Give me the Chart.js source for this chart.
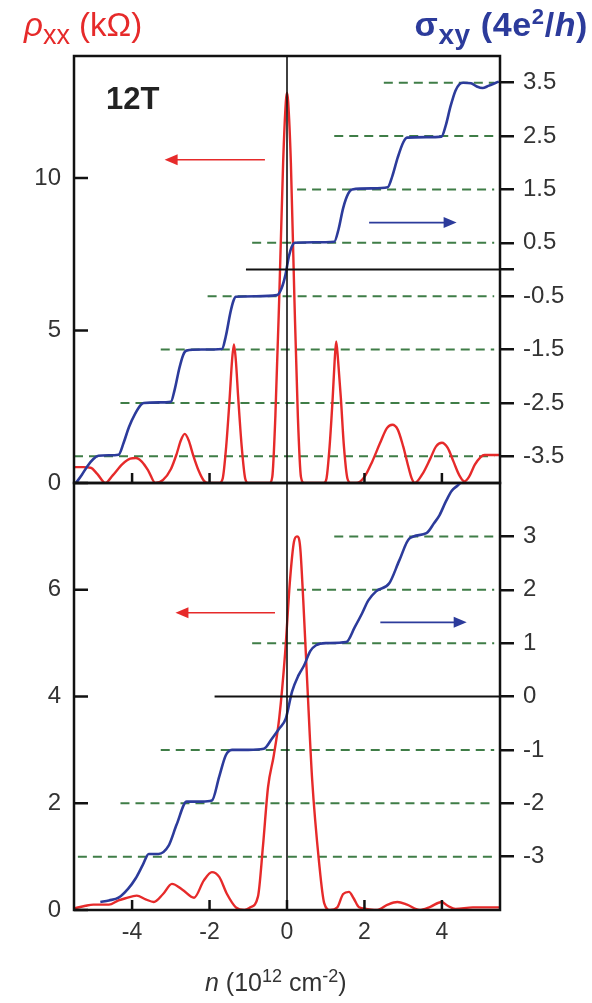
<!DOCTYPE html>
<html><head><meta charset="utf-8">
<script src="https://cdn.jsdelivr.net/npm/chart.js@4"></script>
<style>
html,body{margin:0;padding:0;background:#fff}
body{width:592px;height:1003px;overflow:hidden;position:relative;font-family:"Liberation Sans",Arial,sans-serif}
canvas{position:absolute;left:0}
#c1{top:0}
#c2{top:466px}
.t{position:absolute;white-space:nowrap;line-height:1}
sub,sup{line-height:0}
</style></head>
<body>
<canvas id="c1" width="592" height="500"></canvas>
<canvas id="c2" width="592" height="537"></canvas>
<div class="t" style="left:24px;top:8px;color:#e62a2a;font-size:33px"><i>&rho;</i><sub style="font-size:27px">xx</sub> (k&Omega;)</div>
<div class="t" style="right:4px;top:7px;color:#2c3b9b;font-size:34px;font-weight:bold;letter-spacing:0.6px">&sigma;<sub style="font-size:28px">xy</sub> (4e<sup style="font-size:22px">2</sup>/<i>h</i>)</div>
<div class="t" style="left:106px;top:83px;color:#222;font-size:31px;font-weight:bold">12T</div>
<div class="t" style="left:205px;top:970px;color:#333;font-size:25px"><i>n</i> (10<sup style="font-size:18px">12</sup> cm<sup style="font-size:18px">-2</sup>)</div>
<script>
const RED='#e62a2a', BLUE='#2c3b9b', GREEN='#3f7d47', INK='#111', TXT='#333';
const FONT='"Liberation Sans", Arial, sans-serif';

// shared x axis
const nMin=-5.5, nMax=5.5;
const xTicks=[-4,-2,0,2,4];

// ---- top panel (12T) ----
const topRhoN=[-5.5,-5.25,-5.07,-4.9,-4.69,-4.5,-4.25,-4.05,-3.9,-3.75,-3.58,-3.4,-3.2,-3.0,-2.85,-2.74,-2.64,-2.54,-2.42,-2.28,-2.15,-2.05,-1.75,-1.66,-1.57,-1.48,-1.42,-1.37,-1.32,-1.26,-1.17,-1.08,-1.0,-0.45,-0.38,-0.3,-0.2,-0.1,-0.03,0,0.03,0.1,0.19,0.28,0.36,0.44,0.95,1.02,1.1,1.18,1.23,1.27,1.32,1.39,1.47,1.56,1.65,1.79,2.0,2.2,2.4,2.58,2.72,2.86,3.0,3.12,3.22,3.3,3.5,3.7,3.85,4.0,4.15,4.3,4.45,4.58,4.7,4.85,5.0,5.1,5.5];
const topRho=[0.52,0.52,0.5,0.3,0,0.25,0.62,0.8,0.82,0.7,0.4,0,0.1,0.45,0.95,1.4,1.61,1.4,0.9,0.4,0.08,0,0,0.15,1.2,2.8,4.0,4.54,4.0,2.8,1.2,0.15,0,0,0.2,2.2,6.1,10.5,12.5,12.8,12.5,10.5,6.1,2.2,0.2,0,0,0.15,1.2,2.8,4.0,4.64,4.0,2.8,1.2,0.15,0,0,0.2,0.7,1.3,1.8,1.91,1.75,1.2,0.6,0.15,0,0.3,0.8,1.2,1.32,1.15,0.7,0.25,0.05,0.2,0.6,0.85,0.92,0.92];
const topSigN=[-5.45,-5.3,-5.15,-5.0,-4.87,-4.6,-4.35,-4.22,-4.08,-3.92,-3.78,-3.7,-3.3,-3.0,-2.9,-2.78,-2.68,-2.6,-2.2,-1.68,-1.58,-1.46,-1.38,-1.32,-0.8,-0.26,-0.14,-0.04,0.05,0.12,0.2,0.7,1.22,1.33,1.45,1.58,1.68,2.2,2.6,2.72,2.86,3.0,3.1,3.6,3.99,4.1,4.22,4.35,4.45,4.55,4.75,4.9,5.05,5.2,5.47];
const topSig=[-4.0,-3.85,-3.68,-3.55,-3.49,-3.48,-3.47,-3.25,-2.95,-2.7,-2.54,-2.5,-2.49,-2.48,-2.25,-1.85,-1.6,-1.52,-1.5,-1.49,-1.25,-0.8,-0.58,-0.51,-0.5,-0.48,-0.35,-0.1,0.25,0.42,0.5,0.51,0.52,0.75,1.15,1.42,1.5,1.52,1.54,1.75,2.1,2.38,2.47,2.48,2.49,2.7,3.05,3.35,3.47,3.5,3.49,3.43,3.4,3.44,3.52];
const topLeftTicks=[0,5,10];
const topRightTicks=[-3.5,-2.5,-1.5,-0.5,0,0.5,1.5,2.5,3.5];
const topPlateaus=[-3.5,-2.5,-1.5,-0.5,0.5,1.5,2.5,3.5];
const topPlateauFrom=[-5.5,-4.3,-3.26,-2.05,-0.9,0.26,1.22,2.5];
const topZeroFrom=-1.06;
const topArrowRho=[-0.57,-3.16,10.6];   // from n, to n, rho level
const topArrowSig=[2.12,4.38,0.88];     // from n, to n, sigma level

// ---- bottom panel ----
const botRhoN=[-5.5,-5.2,-5.0,-4.6,-4.35,-4.17,-3.88,-3.65,-3.44,-3.2,-2.97,-2.7,-2.4,-2.15,-1.94,-1.75,-1.55,-1.32,-1.1,-0.95,-0.75,-0.62,-0.49,-0.34,-0.2,-0.05,0.08,0.18,0.26,0.34,0.42,0.52,0.65,0.83,0.96,1.12,1.3,1.45,1.6,1.72,1.86,2.05,2.33,2.6,2.85,3.1,3.42,3.7,3.99,4.15,4.35,4.8,5.5];
const botRho=[0.03,0.08,0.1,0.1,0.18,0.22,0.27,0.2,0.15,0.3,0.49,0.38,0.23,0.55,0.71,0.62,0.3,0.05,0,0.05,0.25,1.2,2.3,2.9,3.6,4.8,6.2,6.9,7.0,6.8,5.8,4.3,2.44,0.88,0.13,0,0.05,0.3,0.34,0.22,0.05,0.02,0,0.1,0.15,0.1,0,0.06,0.15,0.08,0.02,0.05,0.05];
const botSigN=[-4.82,-4.6,-4.35,-4.1,-3.91,-3.72,-3.57,-3.32,-3.06,-2.85,-2.59,-2.2,-1.94,-1.75,-1.58,-1.42,-1.0,-0.6,-0.39,-0.2,-0.03,0.13,0.3,0.44,0.6,0.75,1.0,1.53,1.75,1.94,2.1,2.3,2.64,2.9,3.16,3.6,3.8,3.94,4.1,4.25,4.4,4.56];
const botSig=[-3.85,-3.82,-3.77,-3.6,-3.41,-3.15,-2.95,-2.95,-2.8,-2.4,-1.97,-1.97,-1.95,-1.5,-1.1,-1.0,-1.0,-0.98,-0.79,-0.6,-0.41,0.09,0.4,0.58,0.85,0.96,1.0,1.02,1.3,1.56,1.8,1.97,2.12,2.55,2.96,3.06,3.25,3.4,3.65,3.85,3.95,4.05];
const botLeftTicks=[0,2,4,6];
const botRightTicks=[-3,-2,-1,0,1,2,3];
const botPlateaus=[-3,-2,-1,1,2,3,4];
const botPlateauFrom=[-5.4,-4.3,-3.26,-0.9,0.26,1.22,4.5];
const botZeroFrom=-1.87;
const botArrowRho=[-0.31,-2.88,5.57];
const botArrowSig=[2.41,4.64,1.39];
const plateauTo=5.35;

function xy(ns,vs){return ns.map((n,i)=>({x:n,y:vs[i]}));}
function curve(ns,vs,color,axis,w,order){
  return {data:xy(ns,vs),yAxisID:axis,borderColor:color,borderWidth:w,pointRadius:0,
    cubicInterpolationMode:'monotone',fill:false,order:order};
}
function seg(x0,x1,y0,y1,axis,color,w,dash,order){
  return {data:[{x:x0,y:y0},{x:x1,y:y1}],yAxisID:axis,borderColor:color,borderWidth:w,
    borderDash:dash||[],pointRadius:0,tension:0,fill:false,order:order};
}

const framePlugin={
  id:'frame',
  afterDatasetsDraw(chart,args,o){
    const {ctx,chartArea:a,scales}=chart;
    ctx.save();
    ctx.strokeStyle=INK; ctx.lineWidth=2.5; ctx.lineCap='butt';
    o.leftTicks.forEach(v=>{const y=scales.y.getPixelForValue(v);
      ctx.beginPath();ctx.moveTo(a.left,y);ctx.lineTo(a.left+14,y);ctx.stroke();});
    o.xTicks.forEach(v=>{const x=scales.x.getPixelForValue(v);
      ctx.beginPath();ctx.moveTo(x,a.bottom);ctx.lineTo(x,a.bottom-10);ctx.stroke();});
    o.arrows.forEach(ar=>{
      const sc=scales[ar.axis];
      const x0=scales.x.getPixelForValue(ar.v[0]), x1=scales.x.getPixelForValue(ar.v[1]);
      const y=sc.getPixelForValue(ar.v[2]);
      const dir=Math.sign(x1-x0), L=13, H=5.5;
      ctx.strokeStyle=ar.color; ctx.fillStyle=ar.color; ctx.lineWidth=ar.w;
      ctx.beginPath();ctx.moveTo(x0,y);ctx.lineTo(x1-dir*L*0.6,y);ctx.stroke();
      ctx.beginPath();ctx.moveTo(x1,y);ctx.lineTo(x1-dir*L,y-H);ctx.lineTo(x1-dir*L,y+H);ctx.closePath();ctx.fill();
    });
    ctx.strokeStyle=INK; ctx.lineWidth=2.5;
    ctx.strokeRect(a.left,a.top,a.right-a.left,a.bottom-a.top);
    ctx.restore();
  }
};

function makeChart(id,cfg){
  const datasets=[];
  cfg.plateaus.forEach((v,i)=>datasets.push(seg(cfg.plateauFrom[i],plateauTo,v,v,'y2',GREEN,2,[9,6],5)));
  datasets.push(curve(cfg.rhoN,cfg.rho,RED,'y',2.4,3));
  datasets.push(curve(cfg.sigN,cfg.sig,BLUE,'y2',2.6,2));
  datasets.push(seg(cfg.zeroFrom,nMax,0,0,'y2',INK,1.8,null,1));
  datasets.push(seg(0,0,cfg.yMin,cfg.yMax,'y',INK,1.6,null,1));
  return new Chart(document.getElementById(id),{
    type:'line',
    data:{datasets},
    plugins:[framePlugin],
    options:{
      responsive:false,animation:false,devicePixelRatio:1,
      layout:{padding:cfg.padding},
      plugins:{legend:{display:false},tooltip:{enabled:false},
        frame:{leftTicks:cfg.leftTicks,xTicks:cfg.xInward,arrows:[
          {v:cfg.arrowRho,axis:'y',color:RED,w:1.6},
          {v:cfg.arrowSig,axis:'y2',color:BLUE,w:1.8}]}},
      scales:{
        x:{type:'linear',min:nMin,max:nMax,
          afterBuildTicks:s=>{s.ticks=xTicks.map(v=>({value:v}));},
          ticks:{display:cfg.showX,color:TXT,font:{family:FONT,size:23},padding:9,maxRotation:0,callback:v=>String(v)},
          grid:{display:false,drawTicks:false},border:{display:false},
          afterFit:s=>{s.height=cfg.xHeight;s.paddingLeft=0;s.paddingRight=0;}},
        y:{type:'linear',position:'left',min:cfg.yMin,max:cfg.yMax,
          afterBuildTicks:s=>{s.ticks=cfg.leftTicks.map(v=>({value:v}));},
          ticks:{color:TXT,font:{family:FONT,size:24},padding:13,callback:v=>String(v)},
          grid:{display:false,drawTicks:false},border:{display:false},
          afterFit:s=>{s.width=74;s.paddingTop=0;s.paddingBottom=0;}},
        y2:{type:'linear',position:'right',min:-4,max:4,
          afterBuildTicks:s=>{s.ticks=cfg.rightTicks.map(v=>({value:v}));},
          ticks:{color:TXT,font:{family:FONT,size:24},padding:9,callback:cfg.rightLabel},
          grid:{drawOnChartArea:false,drawTicks:true,tickLength:14,color:INK,lineWidth:2.5},
          border:{display:false},
          afterFit:s=>{s.width=92;s.paddingTop=0;s.paddingBottom=0;}}
      }
    }
  });
}

makeChart('c1',{
  rhoN:topRhoN,rho:topRho,sigN:topSigN,sig:topSig,
  plateaus:topPlateaus,plateauFrom:topPlateauFrom,zeroFrom:topZeroFrom,
  yMin:0,yMax:14,leftTicks:topLeftTicks,rightTicks:topRightTicks,
  rightLabel:v=>v===0?'':v.toFixed(1),
  xInward:[-4,-2,2,4],arrowRho:topArrowRho,arrowSig:topArrowSig,
  showX:false,xHeight:0,padding:{top:56,bottom:17,left:0,right:0}
});
makeChart('c2',{
  rhoN:botRhoN,rho:botRho,sigN:botSigN,sig:botSig,
  plateaus:botPlateaus,plateauFrom:botPlateauFrom,zeroFrom:botZeroFrom,
  yMin:0,yMax:8,leftTicks:botLeftTicks,rightTicks:botRightTicks,
  rightLabel:v=>String(v),
  xInward:xTicks,arrowRho:botArrowRho,arrowSig:botArrowSig,
  showX:true,xHeight:93,padding:{top:17,bottom:0,left:0,right:0}
});
</script>
</body></html>
